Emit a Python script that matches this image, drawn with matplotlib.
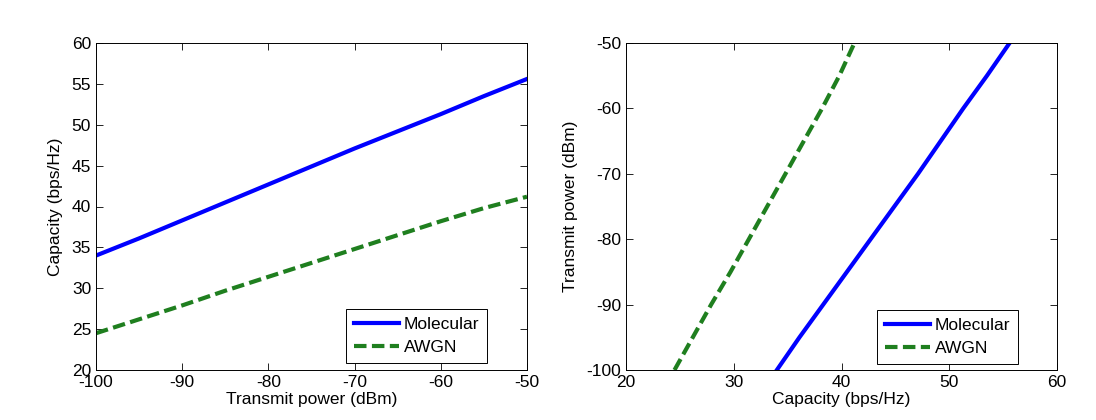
import matplotlib
matplotlib.use("Agg")
import matplotlib.pyplot as plt

power_dbm = [-100, -95, -90, -85, -80, -75, -70, -65, -60, -55, -50]
cap_molecular = [34.0, 36.1, 38.3, 40.5, 42.7, 44.9, 47.1, 49.2, 51.3, 53.5, 55.6]
cap_awgn = [24.5, 26.2, 27.9, 29.7, 31.4, 33.1, 34.8, 36.5, 38.2, 39.8, 41.2]
series_labels = ["Molecular", "AWGN"]
xlabel_left = "Transmit power (dBm)"
ylabel_left = "Capacity (bps/Hz)"

plt.rcParams['font.family'] = ['Liberation Sans', 'DejaVu Sans']
plt.rcParams['font.size'] = 12.5
plt.rcParams['axes.unicode_minus'] = False

BLUE = '#0000ff'
GREEN = '#1f7f1f'
FS = 12.5

fig = plt.figure(figsize=(10.96, 4.20), dpi=100)
W, H = 1096, 420
ax1 = fig.add_axes([96 / W, (H - 370) / H, 431 / W, 327 / H])
ax2 = fig.add_axes([626 / W, (H - 370) / H, 431 / W, 327 / H])

lw = 3.0
dash = (3.0, 1.3)

ax1.plot(power_dbm, cap_molecular, color=BLUE, lw=lw, label=series_labels[0])
ax1.plot(power_dbm, cap_awgn, color=GREEN, lw=lw, ls='--', dashes=dash, label=series_labels[1])
ax1.set_xlim(-100, -50)
ax1.set_ylim(20, 60)
ax1.set_xticks(range(-100, -49, 10))
ax1.set_yticks(range(20, 61, 5))
ax1.set_xlabel(xlabel_left, labelpad=1.5, fontsize=FS)
ax1.set_ylabel(ylabel_left, labelpad=6, fontsize=FS)

ax2.plot(cap_molecular, power_dbm, color=BLUE, lw=lw, label=series_labels[0])
ax2.plot(cap_awgn, power_dbm, color=GREEN, lw=lw, ls='--', dashes=dash, label=series_labels[1])
ax2.set_xlim(20, 60)
ax2.set_ylim(-100, -50)
ax2.set_xticks(range(20, 61, 10))
ax2.set_yticks(range(-100, -49, 10))
ax2.set_xlabel(ylabel_left, labelpad=1.5, fontsize=FS)
ax2.set_ylabel(xlabel_left, labelpad=6, fontsize=FS)

for ax, anchor in ((ax1, (0.907, 0.021)), (ax2, (0.9095, 0.018))):
    ax.tick_params(direction='in', length=5, width=0.6, top=True, right=True, labelsize=FS, pad=3.5)
    for s in ax.spines.values():
        s.set_linewidth(0.7)
    leg = ax.legend(loc='lower right', bbox_to_anchor=anchor, frameon=True, fancybox=False,
                    edgecolor='black', framealpha=1, handlelength=2.6, handletextpad=0.25,
                    borderpad=0.45, labelspacing=0.45, borderaxespad=0, fontsize=FS)
    leg.get_frame().set_linewidth(0.7)

fig.savefig("out.png", dpi=100)
